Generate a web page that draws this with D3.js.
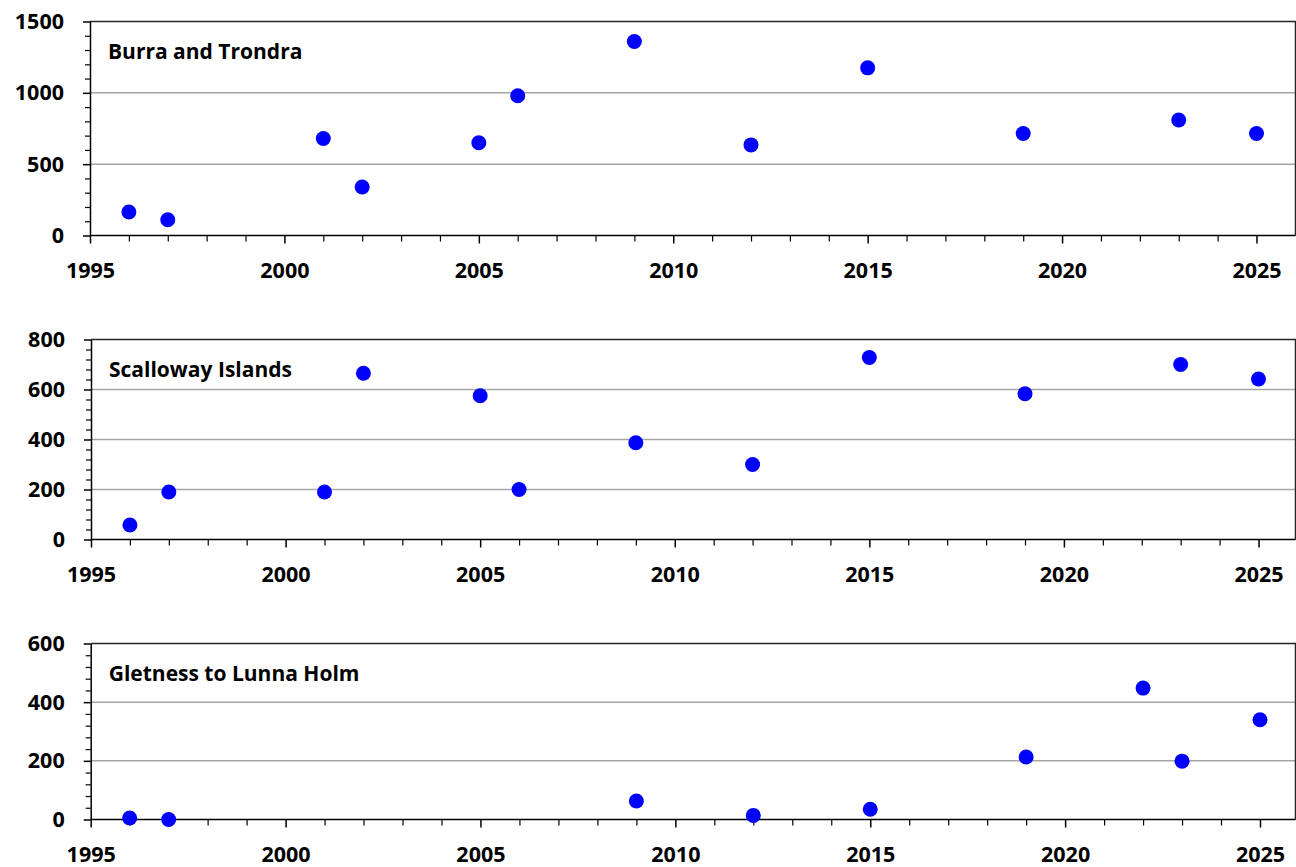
<!DOCTYPE html>
<html>
<head>
<meta charset="utf-8">
<script src="https://cdn.jsdelivr.net/npm/d3@7"></script>
<style>
  html, body { margin: 0; padding: 0; background: #ffffff; }
  svg { display: block; }
  text { font-family: "Open Sans", Lato, sans-serif; font-weight: 700; fill: #000; }
</style>
</head>
<body>
<svg id="chart" width="1296" height="867"></svg>
<script>
// Counts per survey year for each area
const burraYears = [1996, 1997, 2001, 2002, 2005, 2006, 2009, 2012, 2015, 2019, 2023, 2025];
const burraCounts = [165, 110, 680, 340, 650, 980, 1360, 635, 1175, 715, 810, 715];

const scallowayYears = [1996, 1997, 2001, 2002, 2005, 2006, 2009, 2012, 2015, 2019, 2023, 2025];
const scallowayCounts = [58, 190, 190, 665, 575, 200, 387, 300, 728, 583, 700, 642];

const gletnessYears = [1996, 1997, 2009, 2012, 2015, 2019, 2022, 2023, 2025];
const gletnessCounts = [5, 0, 63, 14, 35, 213, 448, 199, 340];

const panelTitles = ["Burra and Trondra", "Scalloway Islands", "Gletness to Lunna Holm"];

// Axis ticks
const yearTicks = [1995, 2000, 2005, 2010, 2015, 2020, 2025];
const yearMinorTicks = d3.range(1995, 2026, 1);
const burraTicks = [0, 500, 1000, 1500];
const scallowayTicks = [0, 200, 400, 600, 800];
const gletnessTicks = [0, 200, 400, 600];

const panels = [
  { title: panelTitles[0], years: burraYears, counts: burraCounts, yTicks: burraTicks, minorStep: 100,
    left: 90, xEnd: 1256.5, top: 21.5, bottom: 235.5 },
  { title: panelTitles[1], years: scallowayYears, counts: scallowayCounts, yTicks: scallowayTicks, minorStep: 40,
    left: 91, xEnd: 1258.5, top: 339.5, bottom: 539.5 },
  { title: panelTitles[2], years: gletnessYears, counts: gletnessCounts, yTicks: gletnessTicks, minorStep: 40,
    left: 90.7, xEnd: 1260, top: 643.5, bottom: 819.5 }
];

const rightEdge = 1295.5;
const labelFont = 21.5;
const svg = d3.select("#chart");

function styleLabels(sel) {
  sel.selectAll("text")
    .attr("font-size", labelFont)
    .attr("font-family", "'Open Sans', Lato, sans-serif")
    .attr("font-weight", 700)
    .attr("fill", "#000");
}

panels.forEach(p => {
  const g = svg.append("g");
  const yMax = p.yTicks[p.yTicks.length - 1];
  const x = d3.scaleLinear().domain([1995, 2025]).range([p.left, p.xEnd]);
  const y = d3.scaleLinear().domain([0, yMax]).range([p.bottom, p.top]);

  // horizontal gridlines
  g.append("g").selectAll("line")
    .data(p.yTicks.filter(v => v > 0 && v < yMax))
    .join("line")
    .attr("x1", p.left).attr("x2", rightEdge)
    .attr("y1", d => y(d)).attr("y2", d => y(d))
    .attr("stroke", "#a6a6a6").attr("stroke-width", 1.5);

  // top and right frame
  g.append("path")
    .attr("d", `M${p.left},${p.top}H${rightEdge}V${p.bottom}`)
    .attr("fill", "none").attr("stroke", "#262626").attr("stroke-width", 1.5);

  // y minor ticks
  const yMinor = d3.range(0, yMax + 1, p.minorStep).filter(v => !p.yTicks.includes(v));
  g.append("g")
    .attr("transform", `translate(${p.left},0)`)
    .call(d3.axisLeft(y).tickValues(yMinor).tickSize(5).tickFormat(""))
    .call(a => a.select(".domain").remove())
    .call(a => a.selectAll("line").attr("stroke", "#000").attr("stroke-width", 1.2));

  // y major axis
  g.append("g")
    .attr("transform", `translate(${p.left},0)`)
    .call(d3.axisLeft(y).tickValues(p.yTicks).tickSize(7).tickSizeOuter(0).tickPadding(19).tickFormat(d3.format("d")))
    .call(a => a.select(".domain").attr("stroke", "#000").attr("stroke-width", 1.5))
    .call(a => a.selectAll("line").attr("stroke", "#000").attr("stroke-width", 1.5))
    .call(styleLabels);

  // x minor ticks (each year)
  g.append("g")
    .attr("transform", `translate(0,${p.bottom})`)
    .call(d3.axisBottom(x).tickValues(yearMinorTicks.filter(v => !yearTicks.includes(v))).tickSize(6).tickFormat(""))
    .call(a => a.select(".domain").remove())
    .call(a => a.selectAll("line").attr("stroke", "#000").attr("stroke-width", 1.2));

  // x major axis
  g.append("g")
    .attr("transform", `translate(0,${p.bottom})`)
    .call(d3.axisBottom(x).tickValues(yearTicks).tickSize(8).tickSizeOuter(0).tickPadding(19).tickFormat(d3.format("d")))
    .call(a => a.select(".domain").attr("d", `M${p.left},0H${rightEdge}`).attr("stroke", "#000").attr("stroke-width", 1.5))
    .call(a => a.selectAll("line").attr("stroke", "#000").attr("stroke-width", 1.5))
    .call(styleLabels);

  // panel title
  g.append("text")
    .attr("x", p.left + 18)
    .attr("y", p.top + 37.5)
    .attr("font-size", 21)
    .text(p.title);

  // points
  g.append("g").selectAll("circle")
    .data(p.years.map((yr, i) => ({ year: yr, count: p.counts[i] })))
    .join("circle")
    .attr("cx", d => x(d.year))
    .attr("cy", d => y(d.count))
    .attr("r", 7.5)
    .attr("fill", "#0000ff");
});
</script>
</body>
</html>
